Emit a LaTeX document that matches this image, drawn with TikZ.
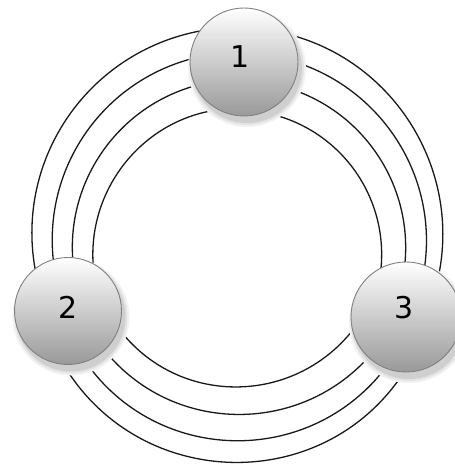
\documentclass[tikz,border=0pt]{standalone}
\usepackage{fontspec}
\newfontfamily\labelfont{DejaVu Sans}
\pgfdeclarelayer{bg}
\pgfdeclarelayer{shadowlayer}
\pgfsetlayers{bg,shadowlayer,main}
\begin{document}
\begin{tikzpicture}[x=1pt,y=1pt,
  ball/.style={circle, draw=black!50, line width=0.9pt, inner sep=0pt, outer sep=0pt,
    top color=white, bottom color=black!40},
  numlabel/.style={font=\labelfont\fontsize{30}{30}\selectfont, text=black, inner sep=0pt},
  ring/.style={draw=black!90, line width=1.3pt},
  shadowA/.style={fill=black!5},
  shadowB/.style={fill=black!11},
  shadowC/.style={fill=black!19}]
\useasboundingbox (0,0) rectangle (455,464);
% nodes
\node[ball, minimum size=108pt] (n1) at (244,402) {};
\node[ball, minimum size=107pt] (n2) at (68,153) {};
\node[ball, minimum size=110pt] (n3) at (406,147) {};
\node[numlabel] (l1) at ([shift={(-4,5)}]n1.center) {1};
\node[numlabel] (l2) at ([shift={(0,4)}]n2.center) {2};
\node[numlabel] (l3) at ([shift={(-1.5,9)}]n3.center) {3};
% shadows
\begin{pgfonlayer}{shadowlayer}
\foreach \n/\r in {n1/54,n2/53.5,n3/55}{
  \fill[shadowA] ([shift={(3,-6)}]\n.center) circle[radius=\r+5];
  \fill[shadowB] ([shift={(3,-6)}]\n.center) circle[radius=\r+3];
  \fill[shadowC] ([shift={(3,-6)}]\n.center) circle[radius=\r+1];
}
\end{pgfonlayer}
% rings
\begin{pgfonlayer}{bg}
% left: 2 -> 1
\draw[ring] (n2.128.2) to[out=100, in=190.8] (n1.145.9);
\draw[ring] (n2.106.5) to[out=96, in=195.4, looseness=0.97] (n1.177.6);
\draw[ring] (n2.85.1) to[out=93.6, in=195.5, looseness=0.96] (n1.206.4);
\draw[ring] (n2.62.5) to[out=93.6, in=187.5, looseness=0.98] (n1.242.1);
% right: 1 -> 3
\draw[ring] (n1.30) to[out=345, in=79, looseness=0.98] (n3.53.1);
\draw[ring] (n1.359.3) to[out=341.5, in=82.3, looseness=0.96] (n3.70.9);
\draw[ring] (n1.330) to[out=341.9, in=85, looseness=0.955] (n3.91.5);
\draw[ring] (n1.291) to[out=349.5, in=84.7, looseness=0.98] (n3.117);
% bottom: 2 -> 3
\draw[ring] (n2.265.9) to[out=300.8, in=237, looseness=1.11] (n3.268.5);
\draw[ring] (n2.313.9) to[out=308.7, in=227.8, looseness=1.03] (n3.227.7);
\draw[ring] (n2.289.7) to[out=305, in=232.4, looseness=1.07] (n3.248);
\draw[ring] (n2.341.4) to[out=307, in=231.5, looseness=1.06] (n3.194.8);
\end{pgfonlayer}
\end{tikzpicture}
\end{document}
